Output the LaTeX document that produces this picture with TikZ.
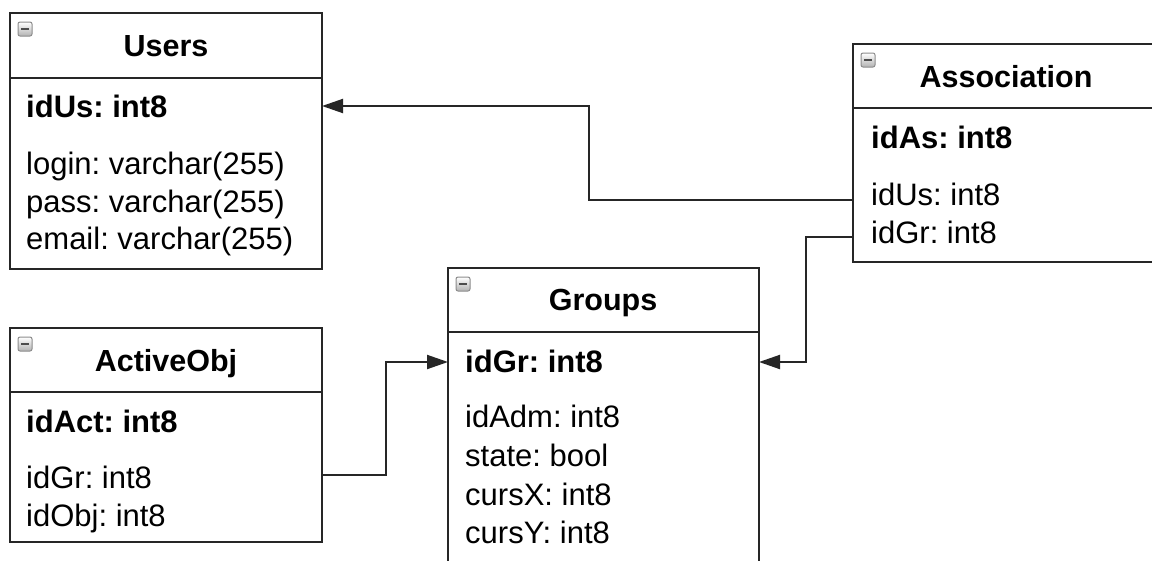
\documentclass[tikz,border=0pt]{standalone}
\usepackage{fontspec}
\setmainfont{Liberation Sans}
\usetikzlibrary{arrows.meta}
\frenchspacing

\tikzset{
  table/.style={draw=black!85, line width=2pt, rectangle, inner sep=0pt,
    outer sep=0pt, anchor=north west, fill=white},
  divider/.style={draw=black!85, line width=2pt},
  title/.style={anchor=base, inner sep=0pt,
    font=\fontsize{30.5}{36}\selectfont\bfseries},
  pk/.style={anchor=base west, inner sep=0pt,
    font=\fontsize{31}{36}\selectfont\bfseries},
  field/.style={anchor=base west, inner sep=0pt,
    font=\fontsize{31}{36}\selectfont},
  fk/.style={draw=black!85, line width=2pt,
    -{Triangle[length=21pt,width=14pt]}},
  iconbox/.style={draw=black!45, line width=1pt, rounded corners=2pt,
    top color=white, bottom color=black!30},
  iconbar/.style={draw=black!70, line width=2pt}
}

% collapse button in the top left corner of a table
\newcommand\collapseicon[1]{%
  \path[iconbox] ([shift={(8,9)}]#1.north west) rectangle ++(14,14);
  \draw[iconbar] ([shift={(11,16)}]#1.north west) -- ++(8,0);
}

\begin{document}
\begin{tikzpicture}[x=1pt,y=-1pt]
  \useasboundingbox (0,0) rectangle (1152,560);
  \fill[white] (0,0) rectangle (1152,560);
  \clip (0,0) rectangle (1152,560);

  % tables
  \node[table, minimum width=312pt, minimum height=256pt] (users) at (10,13) {};
  \node[table, minimum width=306pt, minimum height=218pt] (assoc) at (853,44) {};
  \node[table, minimum width=311pt, minimum height=320pt] (groups) at (448,268) {};
  \node[table, minimum width=312pt, minimum height=214pt] (active) at (10,328) {};

  % header separators
  \draw[divider] (users.west |- 0,77.5) -- (users.east |- 0,77.5);
  \draw[divider] (assoc.west |- 0,108) -- (assoc.east |- 0,108);
  \draw[divider] (groups.west |- 0,332) -- (groups.east |- 0,332);
  \draw[divider] (active.west |- 0,392) -- (active.east |- 0,392);

  \collapseicon{users}
  \collapseicon{assoc}
  \collapseicon{groups}
  \collapseicon{active}

  % Users
  \node[title] (usT) at (166,56) {Users};
  \node[pk]    (usPk) at (26,117) {idUs: int8};
  \node[field] (usF1) at (26,174) {login: varchar(255)};
  \node[field] (usF2) at (26,212) {pass: varchar(255)};
  \node[field] (usF3) at (26,249) {email: varchar(255)};

  % Association
  \node[title] (asT) at (1006,87) {Association};
  \node[pk]    (asPk) at (871,148) {idAs: int8};
  \node[field] (asF1) at (871,205) {idUs: int8};
  \node[field] (asF2) at (871,243) {idGr: int8};

  % Groups
  \node[title] (grT) at (603,310) {Groups};
  \node[pk]    (grPk) at (465,372) {idGr: int8};
  \node[field] (grF1) at (465,427) {idAdm: int8};
  \node[field] (grF2) at (465,466) {state: bool};
  \node[field] (grF3) at (465,505) {cursX: int8};
  \node[field] (grF4) at (465,543) {cursY: int8};

  % ActiveObj
  \node[title] (aoT) at (166,371) {ActiveObj};
  \node[pk]    (aoPk) at (26,432) {idAct: int8};
  \node[field] (aoF1) at (26,488) {idGr: int8};
  \node[field] (aoF2) at (26,526) {idObj: int8};

  % connector end points on the table borders
  \coordinate (usIn)   at ([yshift=-93pt]users.north east);
  \coordinate (asOutU) at ([yshift=-156pt]assoc.north west);
  \coordinate (asOutG) at ([yshift=-193pt]assoc.north west);
  \coordinate (grInR)  at ([yshift=-94pt]groups.north east);
  \coordinate (grInL)  at ([yshift=-94pt]groups.north west);
  \coordinate (aoOut)  at ([yshift=-147pt]active.north east);

  % foreign keys
  \draw[fk] (asOutU) -| ([xshift=267pt]usIn) -- (usIn);
  \draw[fk] (asOutG) -| ([xshift=47pt]grInR) -- (grInR);
  \draw[fk] (aoOut) -| ([xshift=-62pt]grInL) -- (grInL);
\end{tikzpicture}
\end{document}
